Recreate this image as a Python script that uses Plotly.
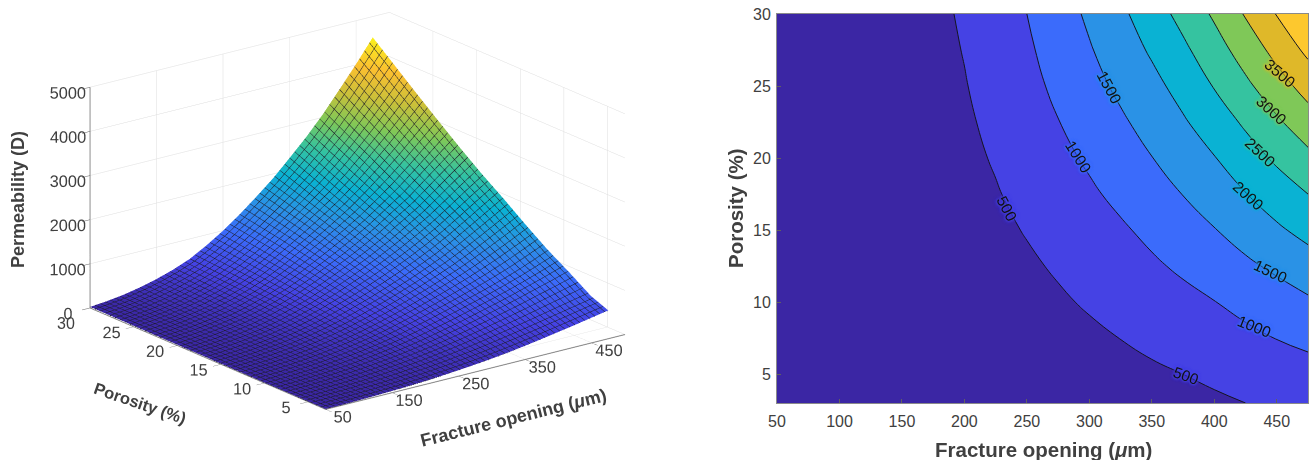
import plotly.graph_objects as go

fracture_opening = [50, 75, 100, 125, 150, 175, 200, 225, 250, 275, 300, 325, 350, 375, 400, 425, 450, 475]
porosity = [3, 5, 7.5, 10, 12.5, 15, 17.5, 20, 22.5, 25, 27.5, 30]

perm_phi_3 = [4, 9, 16, 26, 39, 56, 78, 103, 133, 168, 208, 255, 310, 370, 435, 500, 570, 640]
perm_phi_5 = [6, 13, 23, 37, 55, 80, 110, 145, 190, 240, 295, 360, 430, 500, 575, 650, 725, 800]
perm_phi_7_5 = [8, 18, 33, 53, 80, 115, 160, 210, 270, 340, 420, 505, 600, 695, 795, 905, 1010, 1125]
perm_phi_10 = [10, 23, 42, 68, 105, 150, 205, 270, 350, 445, 545, 650, 760, 870, 990, 1120, 1270, 1430]
perm_phi_12_5 = [13, 28, 51, 84, 127, 185, 255, 337, 437, 547, 667, 795, 932, 1075, 1235, 1410, 1590, 1780]
perm_phi_15 = [15, 33, 60, 100, 150, 220, 305, 405, 525, 650, 790, 940, 1105, 1280, 1480, 1700, 1925, 2150]
perm_phi_17_5 = [17, 38, 69, 115, 173, 253, 354, 472, 614, 767, 930, 1107, 1300, 1510, 1730, 1985, 2250, 2500]
perm_phi_20 = [18, 42, 78, 130, 195, 285, 400, 535, 700, 880, 1065, 1270, 1490, 1740, 1980, 2280, 2580, 2880]
perm_phi_22_5 = [20, 47, 87, 145, 218, 315, 441, 593, 780, 988, 1203, 1432, 1672, 1948, 2247, 2575, 2930, 3280]
perm_phi_25 = [22, 52, 95, 160, 240, 345, 480, 650, 860, 1095, 1340, 1594, 1860, 2170, 2525, 2900, 3290, 3690]
perm_phi_27_5 = [24, 56, 103, 173, 260, 373, 516, 706, 932, 1187, 1462, 1748, 2064, 2405, 2790, 3215, 3650, 4110]
perm_phi_30 = [25, 60, 110, 185, 280, 400, 550, 760, 1000, 1275, 1580, 1900, 2270, 2650, 3070, 3540, 4020, 4530]
permeability = [perm_phi_3, perm_phi_5, perm_phi_7_5, perm_phi_10, perm_phi_12_5, perm_phi_15, perm_phi_17_5,
                perm_phi_20, perm_phi_22_5, perm_phi_25, perm_phi_27_5, perm_phi_30]

x_ticks_3d = [50, 150, 250, 350, 450]
y_ticks_3d = [5, 10, 15, 20, 25]
z_ticks_3d = [0, 1000, 2000, 3000, 4000, 5000]
x_ticks_2d = [50, 100, 150, 200, 250, 300, 350, 400, 450]
y_ticks_2d = [5, 10, 15, 20, 25, 30]

# contour labels as they sit in the right-hand panel
label_text = ['500', '1000', '1500', '2000', '2500', '3000', '3500', '500', '1000', '1500']
label_opening = [234, 291, 316, 427, 437, 446, 453, 377, 432, 445]
label_porosity = [16.5, 20.1, 24.9, 17.4, 20.4, 23.3, 25.9, 4.9, 8.3, 12.1]
label_angle = [62, 58, 62, 42, 43, 42, 40, 20, 22, 25]
label_band = [1, 2, 3, 4, 5, 6, 7, 1, 2, 3]

surface_colors = [[0, '#3b26a4'], [0.11, '#4542e4'], [0.22, '#3b6bfb'], [0.33, '#2a92e6'], [0.44, '#0ab2d3'],
                  [0.55, '#35c3a0'], [0.66, '#7fc858'], [0.77, '#c9c03a'], [0.88, '#fbbf30'], [1, '#f9f11e']]
band_colors = ['#3b26a4', '#4542e4', '#3b6bfb', '#2a92e6', '#0ab2d3', '#35c3a0', '#7fc858', '#dfb829', '#fdc82e']
contour_scale = [[i / 8, c] for i, c in enumerate(band_colors)]

TXT = '#404040'
FONT = 'Liberation Sans'

fig = go.Figure()
fig.add_trace(go.Surface(
    x=fracture_opening, y=porosity, z=permeability,
    colorscale=surface_colors, showscale=False, hoverinfo='skip',
    lighting=dict(ambient=1, diffuse=0, specular=0, fresnel=0, roughness=1),
    contours=dict(
        x=dict(show=True, start=50, end=475, size=7.5, color='#1c1c28', width=2, highlight=False),
        y=dict(show=True, start=3, end=30, size=0.575, color='#1c1c28', width=2, highlight=False),
        z=dict(highlight=False),
    ),
))
fig.add_trace(go.Contour(
    x=fracture_opening, y=porosity, z=permeability,
    xaxis='x', yaxis='y',
    colorscale=contour_scale, zauto=False, zmin=250, zmax=4250, showscale=False, hoverinfo='skip',
    contours=dict(coloring='fill', start=500, end=4000, size=500, showlabels=False),
    line=dict(color='#15151f', width=1, smoothing=1.3),
))


def axis3d(rng, ticks):
    return dict(range=rng, tickmode='array', tickvals=ticks, ticktext=[str(t) for t in ticks],
                title=dict(text=''), showbackground=False, showspikes=False, zeroline=False,
                gridcolor='#dedede', gridwidth=1, showline=True, linecolor='#808080', linewidth=2,
                ticks='outside', ticklen=10, tickcolor='#606060', tickwidth=1,
                tickfont=dict(family=FONT, size=14, color=TXT), tickangle=0)


def note(text, px, py, size, angle=0):
    return dict(text=text, x=px / 1310, y=1 - py / 460, xref='paper', yref='paper', textangle=angle,
                xanchor='center', yanchor='middle', showarrow=False, font=dict(family=FONT, size=size, color=TXT))


def contour_label(text, b, phi, angle, band):
    c = band_colors[band]
    return dict(text=text, x=b, y=phi, xref='x', yref='y', textangle=angle, xanchor='center', yanchor='middle',
                showarrow=False,
                font=dict(family=FONT, size=15.5, color='#111111',
                          shadow=f'0 0 2px {c}, 0 0 3px {c}, 0 0 4px {c}, 0 0 4px {c}'))


annotations = [
    note('30', 66, 323, 16),
    note('<b>Permeability (D)</b>', 18, 200, 18, -90),
    note('<b>Porosity (%)</b>', 140, 403, 16.5, 19),
    note('<b>Fracture opening (<i>μ</i>m)</b>', 513, 418, 18, -14),
    note('<b>Fracture opening (<i>μ</i>m)</b>', 1043, 449, 20.5),
    note('<b>Porosity (%)</b>', 735, 208, 20.5, -90),
]
annotations += [contour_label(*row) for row in zip(label_text, label_opening, label_porosity, label_angle, label_band)]

fig.update_layout(
    width=1310, height=460, margin=dict(l=0, r=0, t=0, b=0), autosize=False,
    paper_bgcolor='white', plot_bgcolor='white', font=dict(family=FONT, color=TXT), showlegend=False,
    scene=dict(
        domain=dict(x=[0, 0.5458], y=[0, 1]),
        xaxis=axis3d([50, 500], x_ticks_3d),
        yaxis=axis3d([3, 30], y_ticks_3d),
        zaxis=axis3d([0, 5000], z_ticks_3d),
        aspectmode='manual', aspectratio=dict(x=1.636, y=1.69, z=1.016),
        camera=dict(projection=dict(type='orthographic'), up=dict(x=0, y=0, z=1),
                    center=dict(x=0, y=0, z=-0.088), eye=dict(x=-0.974, y=-1.278, z=0.47)),
    ),
    xaxis=dict(domain=[777 / 1310, 1308 / 1310], range=[50, 475], tickvals=x_ticks_2d, ticks='inside', ticklen=4,
               tickcolor='#606060', showline=True, mirror=True, linecolor='#8a8a8a', showgrid=False, zeroline=False,
               automargin=False, ticklabelstandoff=4, tickfont=dict(family=FONT, size=16, color=TXT)),
    yaxis=dict(domain=[1 - 403 / 460, 1 - 14 / 460], range=[3, 30], tickvals=y_ticks_2d, ticks='inside', ticklen=4,
               tickcolor='#606060', showline=True, mirror=True, linecolor='#8a8a8a', showgrid=False, zeroline=False,
               automargin=False, ticklabelstandoff=2, tickfont=dict(family=FONT, size=16, color=TXT)),
    annotations=annotations,
)
fig.write_html("out.html", post_script="document.body.style.margin='0';", config=dict(displayModeBar=False))
